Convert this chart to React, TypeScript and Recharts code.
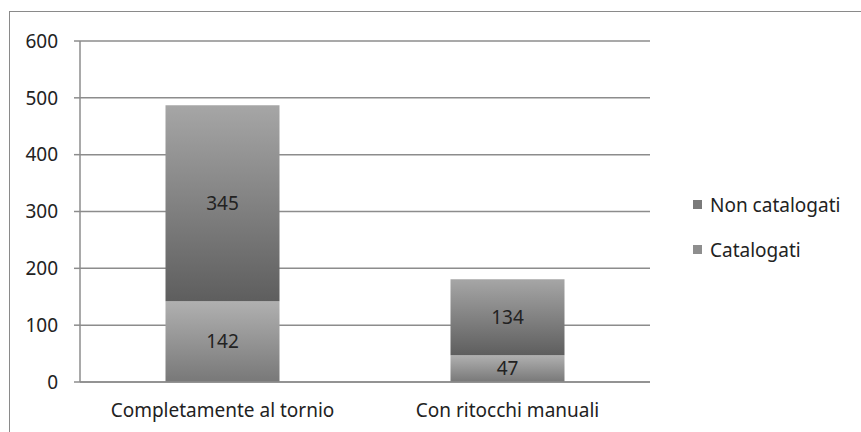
import { Bar, BarChart, CartesianGrid, LabelList, XAxis, YAxis } from "recharts";

const categories = ["Completamente al tornio", "Con ritocchi manuali"];
const catalogati = [142, 47];
const nonCatalogati = [345, 134];
const yTicks = [0, 100, 200, 300, 400, 500, 600];

const data = categories.map((name, i) => ({
  name,
  catalogati: catalogati[i],
  nonCatalogati: nonCatalogati[i],
}));

const font = "'Noto Sans', 'Open Sans', sans-serif";

function LegendBox() {
  const items = [
    { label: "Non catalogati", color: "#7a7a7a" },
    { label: "Catalogati", color: "#8e8e8e" },
  ];
  return (
    <div
      style={{
        position: "absolute",
        left: 693,
        top: 182,
        fontFamily: font,
        fontSize: 19,
        color: "#222",
      }}
    >
      {items.map((it) => (
        <div key={it.label} style={{ display: "flex", alignItems: "center", height: 45 }}>
          <span
            style={{
              display: "inline-block",
              width: 9,
              height: 9,
              background: it.color,
              marginRight: 8,
            }}
          />
          {it.label}
        </div>
      ))}
    </div>
  );
}

export default function App() {
  return (
    <div
      style={{
        position: "absolute",
        left: 0,
        top: 0,
        width: 861,
        height: 432,
        overflow: "hidden",
        background: "#fff",
      }}
    >
      <div
        style={{
          position: "absolute",
          left: 9,
          top: 11,
          width: 900,
          height: 460,
          border: "1.5px solid #8a8a8a",
        }}
      />
      <BarChart
        width={861}
        height={432}
        data={data}
        margin={{ top: 41, right: 211, bottom: 0, left: 0 }}
        barCategoryGap="30%"
        style={{ position: "absolute", left: 0, top: 0 }}
      >
        <defs>
          <linearGradient id="gradCat" x1="0" y1="0" x2="0" y2="1">
            <stop offset="0%" stopColor="#b0b0b0" />
            <stop offset="100%" stopColor="#787878" />
          </linearGradient>
          <linearGradient id="gradNon" x1="0" y1="0" x2="0" y2="1">
            <stop offset="0%" stopColor="#a6a6a6" />
            <stop offset="100%" stopColor="#5e5e5e" />
          </linearGradient>
        </defs>
        <CartesianGrid vertical={false} stroke="#8c8c8c" strokeWidth={1.5} />
        <XAxis
          dataKey="name"
          height={50}
          stroke="#8c8c8c"
          strokeWidth={1.5}
          tickLine={false}
          tickMargin={16}
          tick={{ fill: "#222", fontSize: 19, fontFamily: font }}
        />
        <YAxis
          width={80}
          domain={[0, 600]}
          ticks={yTicks}
          stroke="#8c8c8c"
          strokeWidth={1.5}
          tickSize={6}
          tickMargin={16}
          tick={{ fill: "#222", fontSize: 19, fontFamily: font }}
        />
        <Bar dataKey="catalogati" name="Catalogati" stackId="a" fill="url(#gradCat)" isAnimationActive={false}>
          <LabelList dataKey="catalogati" position="center" fill="#222" fontSize={19} fontFamily={font} />
        </Bar>
        <Bar dataKey="nonCatalogati" name="Non catalogati" stackId="a" fill="url(#gradNon)" isAnimationActive={false}>
          <LabelList dataKey="nonCatalogati" position="center" fill="#222" fontSize={19} fontFamily={font} />
        </Bar>
      </BarChart>
      <LegendBox />
    </div>
  );
}
